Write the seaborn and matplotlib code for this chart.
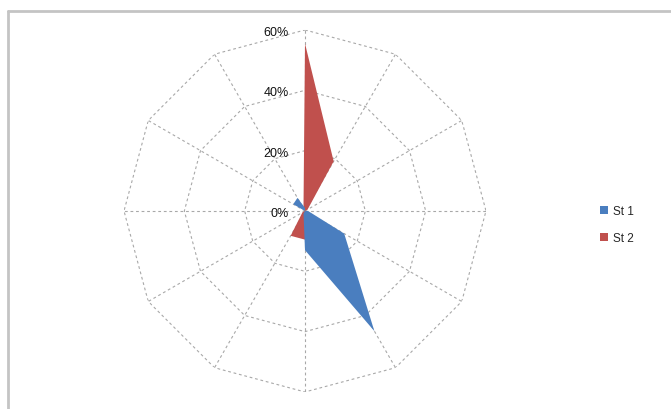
import numpy as np
import pandas as pd
import seaborn as sns
import matplotlib
matplotlib.use("Agg")
import matplotlib.pyplot as plt
from matplotlib.patches import Patch
from matplotlib.lines import Line2D

# Share (%) per sector, 12 sectors clockwise from north
sectors = ["0°", "30°", "60°", "90°", "120°", "150°",
           "180°", "210°", "240°", "270°", "300°", "330°"]
st1 = [1, 0, 0, 1, 15, 46, 13, 1, 0, 0, 4.5, 5]
st2 = [55.5, 19, 1, 0, 0, 0, 9.5, 9.5, 1, 0, 0, 1]
series_names = ["St 1", "St 2"]
ring_values = [0, 20, 40, 60]
ring_labels = ["0%", "20%", "40%", "60%"]

colors = {"St 1": "#4A7EBF", "St 2": "#C0504D"}

sns.set_theme(style="white")
plt.rcParams["font.family"] = ["Liberation Sans", "DejaVu Sans"]

df = pd.DataFrame({"sector": sectors, "St 1": st1, "St 2": st2})
n = len(sectors)
theta = np.linspace(0, 2 * np.pi, n, endpoint=False)
theta_closed = np.append(theta, theta[0])

fig = plt.figure(figsize=(6.71, 4.10), dpi=100)
ax = fig.add_axes([0.1848, 0.0415, 0.5395, 0.883], projection="polar")
ax.set_theta_zero_location("N")
ax.set_theta_direction(-1)
ax.set_ylim(0, 60)
ax.grid(False)
ax.spines["polar"].set_visible(False)
ax.set_xticks([])
ax.set_yticks([])
ax.set_facecolor("none")

grid_kw = dict(color="#A8A8A8", lw=0.8, ls=(0, (2.5, 2.5)), zorder=1)
# polygonal rings
for r in ring_values[1:]:
    ax.plot(theta_closed, [r] * (n + 1), **grid_kw)
# spokes
for t in theta:
    ax.plot([t, t], [0, ring_values[-1]], **grid_kw)

# filled series (St 2 underneath, St 1 on top)
for name, z in (("St 2", 2), ("St 1", 3)):
    vals = df[name].to_numpy()
    ax.fill(theta_closed, np.append(vals, vals[0]), color=colors[name],
            lw=0, zorder=z)

# radial value labels next to the north spoke
for r, lab in zip(ring_values, ring_labels):
    ax.annotate(lab, xy=(0, r), xytext=(-16, -2), textcoords="offset pixels",
                ha="right", va="center", fontsize=9, color="#111111",
                zorder=5)

# legend
handles = [Patch(facecolor=colors[s], edgecolor="none", label=s)
           for s in series_names]
fig.legend(handles=handles, loc="center left", bbox_to_anchor=(0.878, 0.45),
           frameon=False, fontsize=8.5, handlelength=0.7, handleheight=0.7,
           handletextpad=0.4, labelspacing=1.3)

# chart-area border
fig.add_artist(Line2D([8 / 671, 1.0], [1 - 12 / 410, 1 - 12 / 410],
                      transform=fig.transFigure, color="#C4C4C4", lw=2))
fig.add_artist(Line2D([8 / 671, 8 / 671], [0.0, 1 - 12 / 410],
                      transform=fig.transFigure, color="#C4C4C4", lw=2))

fig.savefig("out.png", dpi=100, facecolor="white")
